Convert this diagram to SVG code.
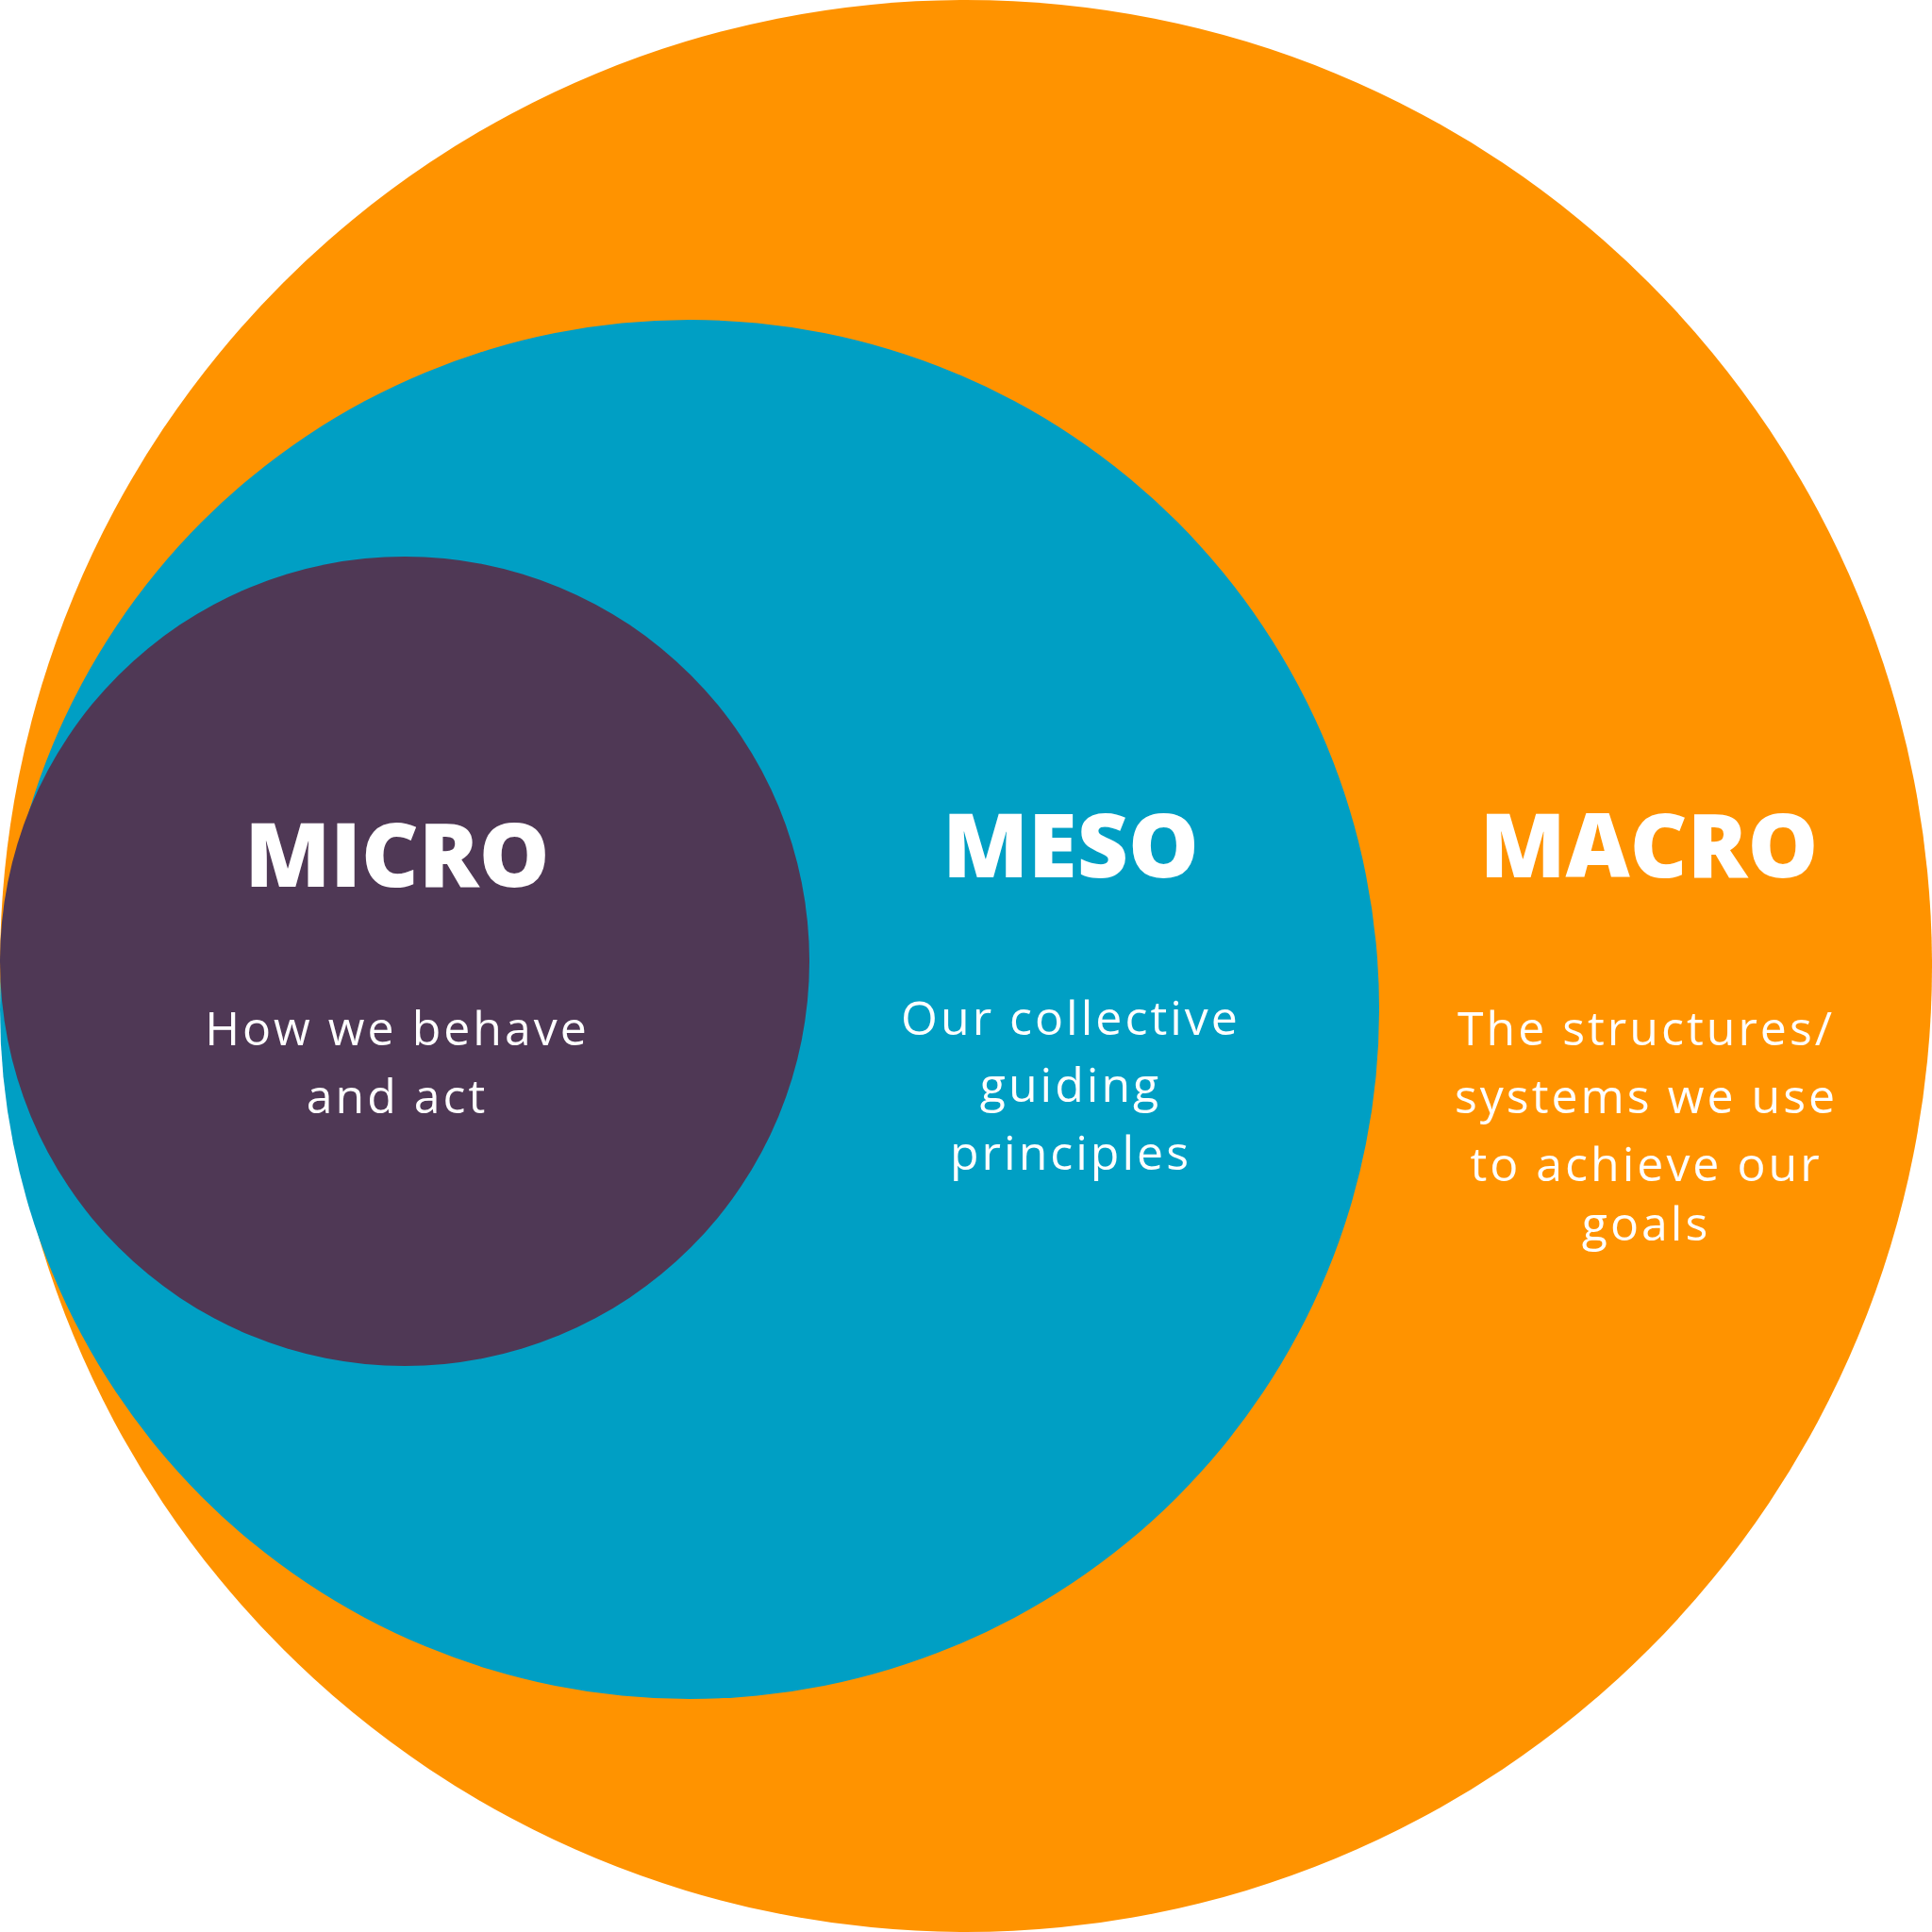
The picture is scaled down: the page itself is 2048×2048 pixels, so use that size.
<svg xmlns="http://www.w3.org/2000/svg" width="2048" height="2048" viewBox="0 0 2048 2048">
<style>
.h{font-family:"Open Sans","Liberation Sans",sans-serif;font-weight:800;font-size:94px;fill:#fff;text-anchor:middle}
.s{font-family:"Open Sans","Liberation Sans",sans-serif;font-weight:400;font-size:50px;letter-spacing:3px;fill:#fff;text-anchor:middle}
</style>
<g id="macro"><circle cx="1024" cy="1024" r="1024" fill="#FF9300"/></g>
<g id="meso"><circle cx="731" cy="1070" r="731" fill="#009FC4"/></g>
<g id="micro"><circle cx="429" cy="1019" r="429" fill="#4F3855"/></g>
<g id="labels">
<text class="h" x="421" y="940">MICRO</text>
<text class="s" x="421" y="1108">How we behave</text>
<text class="s" x="421" y="1180">and act</text>
<text class="h" x="1135" y="930">MESO</text>
<text class="s" x="1135" y="1097">Our collective</text>
<text class="s" x="1135" y="1168">guiding</text>
<text class="s" x="1135" y="1240">principles</text>
<text class="h" x="1748" y="930">MACRO</text>
<text class="s" x="1745" y="1108">The structures/</text>
<text class="s" x="1745" y="1180">systems we use</text>
<text class="s" x="1745" y="1252">to achieve our</text>
<text class="s" x="1745" y="1315">goals</text>
</g>
</svg>
